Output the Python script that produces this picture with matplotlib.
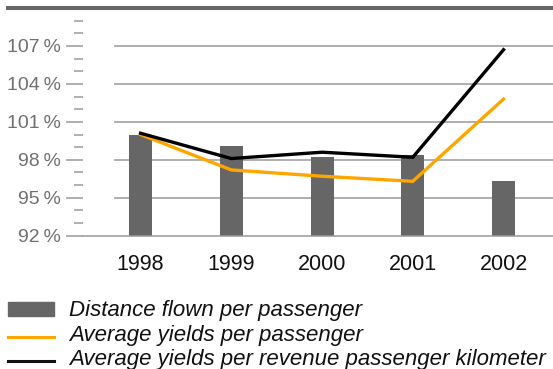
import matplotlib
matplotlib.use('Agg')
import matplotlib.pyplot as plt
from matplotlib.lines import Line2D
from matplotlib.patches import Rectangle
import numpy as np

years = ['1998', '1999', '2000', '2001', '2002']
distance_flown = [100.0, 99.1, 98.2, 98.4, 96.3]
yields_passenger = [100.0, 97.2, 96.7, 96.3, 102.8]
yields_rpk = [100.1, 98.1, 98.6, 98.2, 106.7]
major_ticks = [92, 95, 98, 101, 104, 107]
legend_labels = ['Distance flown per passenger',
                 'Average yields per passenger',
                 'Average yields per revenue passenger kilometer']

plt.rcParams['font.family'] = ['Liberation Sans', 'DejaVu Sans']

W, H = 553, 369
fig = plt.figure(figsize=(W / 100, H / 100), dpi=100)

# axes box in pixels
left, right, top, bottom = 83, 553, 8, 235.7
ax = fig.add_axes([left / W, (H - bottom) / H, (right - left) / W, (bottom - top) / H])

grey = '#666666'
grid_c = '#9a9a9a'
x = np.arange(len(years))

ax.bar(x, distance_flown, width=0.253, bottom=0, color=grey, zorder=2)
ax.plot(x, yields_passenger, color='#ffa500', lw=2.4, zorder=3,
        solid_joinstyle='miter')
ax.plot(x, yields_rpk, color='black', lw=2.4, zorder=4,
        solid_joinstyle='miter')

ax.set_xlim(-0.634, 4.545)
ax.set_ylim(92, 110)

ax.hlines(major_ticks[1:], -0.292, 4.545, color=grid_c, lw=1.1, zorder=1)

for s in ['top', 'right', 'left']:
    ax.spines[s].set_visible(False)
ax.spines['bottom'].set_color(grid_c)
ax.spines['bottom'].set_linewidth(1.1)

ax.set_yticks(major_ticks)
ax.set_yticklabels([f'{v}\u2009%' for v in major_ticks])
ax.set_yticks(range(92, 110), minor=True)
ax.tick_params(axis='y', which='major', length=12, width=1.1, color=grid_c,
               pad=3.6, labelsize=14, labelcolor='#707070')
ax.tick_params(axis='y', which='minor', length=6.5, width=1.1, color=grid_c)

ax.set_xticks(x)
ax.set_xticklabels(years)
ax.tick_params(axis='x', length=0, pad=13.5, labelsize=15.5, labelcolor='#111111')

# dark rule at the top
fig.add_artist(Line2D([8 / W, 1], [(H - 8) / H] * 2, color=grey, lw=2.9))

# legend drawn by hand
fig.add_artist(Rectangle((8 / W, (H - 316) / H), 46 / W, 14 / H,
                         color=grey, transform=fig.transFigure))
fig.add_artist(Line2D([8 / W, 54 / W], [(H - 337.3) / H] * 2,
                      color='#ffa500', lw=2.2))
fig.add_artist(Line2D([8 / W, 54 / W], [(H - 360.7) / H] * 2,
                      color='#111111', lw=2.2))
for lab, base in zip(legend_labels, [316, 340.5, 364.5]):
    fig.text(69 / W, (H - base) / H, lab, fontsize=16, style='italic',
             va='baseline', ha='left', color='#111111')

fig.savefig('out.png', dpi=100)
